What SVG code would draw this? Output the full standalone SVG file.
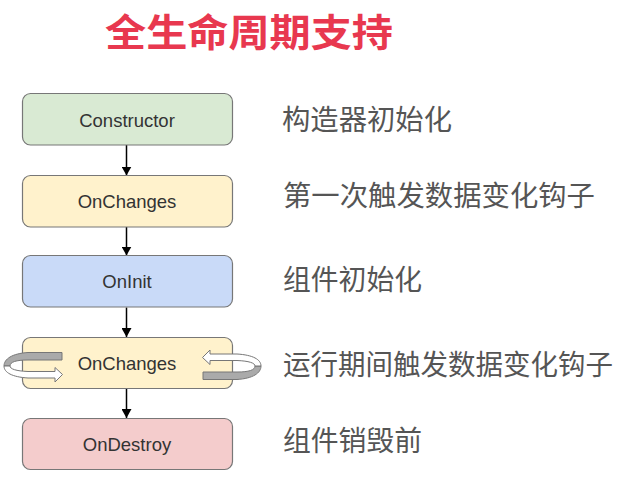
<svg xmlns="http://www.w3.org/2000/svg" width="628" height="480" viewBox="0 0 628 480">
<style>
.box{stroke:#777;stroke-width:1.2}
.bt{font-family:"Liberation Sans",Arial,sans-serif;font-size:18.5px;fill:#333;text-anchor:middle}
.lb{font-family:"Noto Sans CJK SC",sans-serif;font-size:28px;fill:#555}
.title{font-family:"Noto Sans CJK SC",sans-serif;font-size:38px;font-weight:bold;fill:#e8384f;text-anchor:middle}
.conn{stroke:#000;stroke-width:1.5;fill:none;marker-end:url(#ah)}
.back{fill:#aaa;stroke:#777;stroke-width:1}
.front{fill:#fff;stroke:#777;stroke-width:1}
</style>
<defs>
<marker id="ah" markerWidth="9" markerHeight="10" refX="9" refY="5" orient="auto" markerUnits="userSpaceOnUse" viewBox="0 0 9 10">
<path d="M0,0 L9,5 L0,10 Z" fill="#000"/>
</marker>
<g id="spin">
<path class="back" d="M62,352.5 L28,352.5 C12,353.5 4,359 4,366 L10,366 C10,362 16,360 28,360 L62,360 Z"/>
<path class="front" d="M4,366 C4,372.5 12,377 28,378 L55,378 L55,382 L62.5,374.5 L55,367.5 L55,371.5 L28,371.5 C16,371 10,369 10,366 Z"/>
</g>
</defs>
<text class="title" x="249" y="46" textLength="288" lengthAdjust="spacingAndGlyphs">全生命周期支持</text>
<g id="connectors">
<line class="conn" x1="126.5" y1="145" x2="126.5" y2="175.5"/>
<line class="conn" x1="126.5" y1="227" x2="126.5" y2="255.5"/>
<line class="conn" x1="126.5" y1="307.5" x2="126.5" y2="337"/>
<line class="conn" x1="126.5" y1="389" x2="126.5" y2="418"/>
</g>
<g id="constructor">
<rect class="box" x="22.5" y="93.5" width="210" height="51.5" rx="8" fill="#d9ead3"/>
<text class="bt" x="127" y="126.5">Constructor</text>
</g>
<g id="onchanges1">
<rect class="box" x="22.5" y="175.5" width="210" height="51.5" rx="8" fill="#fff2cc"/>
<text class="bt" x="127" y="208">OnChanges</text>
</g>
<g id="oninit">
<rect class="box" x="22.5" y="255.5" width="210" height="51.5" rx="8" fill="#c9daf8"/>
<text class="bt" x="127" y="288">OnInit</text>
</g>
<g id="onchanges2">
<rect class="box" x="22.5" y="337.5" width="210" height="51" rx="8" fill="#fff2cc"/>
<text class="bt" x="127" y="370">OnChanges</text>
<use href="#spin"/>
<use href="#spin" transform="rotate(180 132.5 366)"/>
</g>
<g id="ondestroy">
<rect class="box" x="22.5" y="418.5" width="210" height="51" rx="8" fill="#f4cccc"/>
<text class="bt" x="127" y="451">OnDestroy</text>
</g>
<g id="labels">
<text class="lb" x="282" y="130" textLength="170" lengthAdjust="spacingAndGlyphs">构造器初始化</text>
<text class="lb" x="283" y="206" textLength="312" lengthAdjust="spacingAndGlyphs">第一次触发数据变化钩子</text>
<text class="lb" x="283" y="290" textLength="139" lengthAdjust="spacingAndGlyphs">组件初始化</text>
<text class="lb" x="283" y="375" textLength="330" lengthAdjust="spacingAndGlyphs">运行期间触发数据变化钩子</text>
<text class="lb" x="283" y="451" textLength="139" lengthAdjust="spacingAndGlyphs">组件销毁前</text>
</g>
</svg>
